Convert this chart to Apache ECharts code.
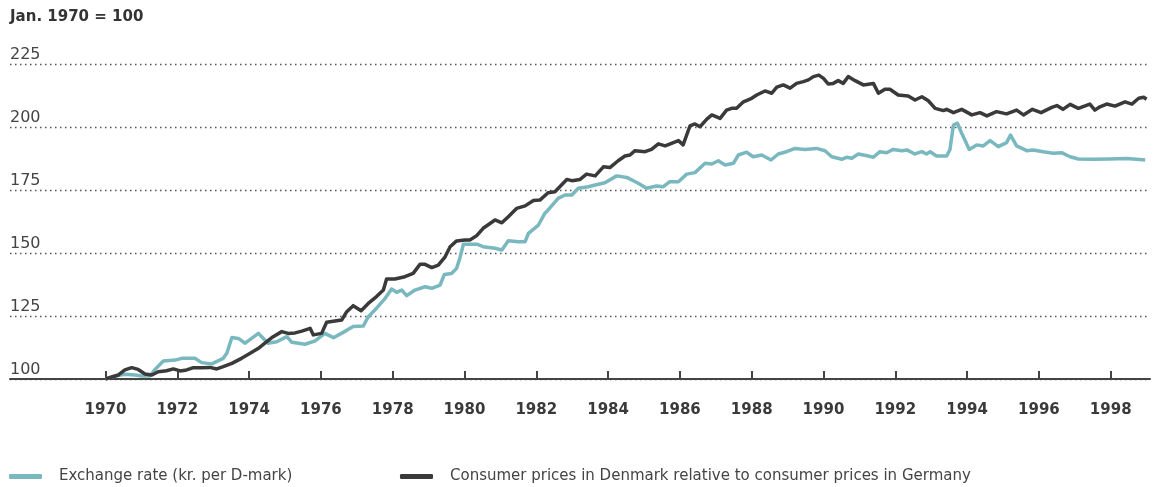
<!DOCTYPE html>
<html>
<head>
<meta charset="utf-8">
<script src="https://cdn.jsdelivr.net/npm/echarts@6/dist/echarts.min.js"></script>
<style>
html,body{margin:0;padding:0;background:#fff;}
#chart{width:1155px;height:487px;}
</style>
</head>
<body>
<div id="chart"></div>
<script>
// ---- data (decimal years, index Jan. 1970 = 100) ----
const exName = 'Exchange rate (kr. per D-mark)';
const cpName = 'Consumer prices in Denmark relative to consumer prices in Germany';

const exDates = [1970.00,1970.26,1970.54,1970.82,1971.00,1971.24,1971.38,1971.61,1971.94,1972.12,1972.49,1972.68,1972.96,1973.28,1973.38,1973.52,1973.70,1973.89,1974.07,1974.26,1974.35,1974.53,1974.77,1975.05,1975.19,1975.56,1975.84,1976.11,1976.35,1976.62,1976.90,1977.18,1977.32,1977.55,1977.79,1977.97,1978.11,1978.25,1978.39,1978.62,1978.90,1979.09,1979.32,1979.44,1979.64,1979.78,1979.87,1979.97,1980.20,1980.34,1980.52,1980.85,1981.04,1981.22,1981.50,1981.69,1981.78,1982.06,1982.24,1982.33,1982.61,1982.80,1982.99,1983.17,1983.45,1983.64,1983.91,1984.24,1984.52,1984.84,1985.07,1985.35,1985.54,1985.72,1985.96,1986.19,1986.42,1986.70,1986.89,1987.07,1987.26,1987.49,1987.63,1987.86,1988.04,1988.28,1988.54,1988.74,1988.97,1989.21,1989.48,1989.81,1990.04,1990.23,1990.51,1990.65,1990.79,1990.97,1991.25,1991.39,1991.57,1991.76,1991.94,1992.18,1992.32,1992.55,1992.74,1992.87,1992.97,1993.15,1993.43,1993.52,1993.62,1993.73,1993.85,1994.06,1994.27,1994.45,1994.64,1994.87,1995.10,1995.21,1995.38,1995.66,1995.84,1996.12,1996.40,1996.63,1996.87,1997.10,1997.52,1997.98,1998.45,1998.72,1998.96];
const exValues = [100.0,101.2,101.9,101.6,101.2,101.2,103.8,107.1,107.5,108.2,108.2,106.5,106.0,108.2,110.2,116.5,116.1,114.2,116.1,118.1,116.8,114.2,114.8,116.8,114.6,113.8,115.1,118.1,116.4,118.5,120.8,121.0,124.7,128.1,132.0,135.7,134.4,135.3,133.1,135.3,136.6,136.0,137.3,141.5,141.9,143.9,147.9,153.5,153.5,153.5,152.5,151.9,151.2,154.9,154.5,154.5,157.8,161.1,165.8,167.1,171.7,173.0,173.0,175.7,176.3,177.0,177.9,180.6,180.0,177.7,175.7,176.6,176.3,178.3,178.3,181.3,181.9,185.6,185.3,186.6,184.9,185.6,188.9,190.0,188.2,188.9,186.9,189.3,190.2,191.5,191.1,191.5,190.6,188.2,187.2,188.0,187.6,189.3,188.5,188.0,190.2,189.8,191.1,190.6,190.9,189.3,190.2,189.3,190.2,188.5,188.5,190.9,200.8,201.5,197.5,191.1,192.9,192.5,194.6,192.2,193.8,196.8,192.5,190.6,190.9,190.2,189.6,189.8,188.2,187.3,187.2,187.3,187.5,187.2,186.9];

const cpDates = [1970.00,1970.36,1970.54,1970.73,1970.91,1971.10,1971.29,1971.47,1971.70,1971.89,1972.08,1972.26,1972.45,1972.68,1972.91,1973.10,1973.28,1973.52,1973.79,1974.03,1974.26,1974.44,1974.67,1974.91,1975.09,1975.28,1975.47,1975.70,1975.79,1976.02,1976.16,1976.39,1976.58,1976.72,1976.90,1977.12,1977.32,1977.55,1977.74,1977.83,1978.06,1978.34,1978.57,1978.76,1978.90,1979.09,1979.27,1979.46,1979.60,1979.78,1980.01,1980.15,1980.34,1980.52,1980.85,1981.04,1981.22,1981.45,1981.69,1981.92,1982.10,1982.33,1982.52,1982.85,1982.99,1983.22,1983.40,1983.64,1983.87,1984.05,1984.28,1984.47,1984.61,1984.75,1985.03,1985.21,1985.40,1985.59,1985.96,1986.09,1986.28,1986.42,1986.56,1986.75,1986.89,1987.12,1987.30,1987.44,1987.58,1987.77,1988.00,1988.14,1988.37,1988.56,1988.70,1988.88,1989.07,1989.25,1989.44,1989.58,1989.72,1989.87,1990.00,1990.13,1990.27,1990.41,1990.55,1990.69,1990.88,1991.11,1991.39,1991.53,1991.71,1991.85,1992.08,1992.36,1992.55,1992.74,1992.92,1993.11,1993.34,1993.43,1993.62,1993.85,1994.13,1994.36,1994.55,1994.82,1995.10,1995.38,1995.57,1995.82,1996.06,1996.36,1996.50,1996.67,1996.87,1997.10,1997.42,1997.56,1997.70,1997.89,1998.12,1998.40,1998.59,1998.78,1998.92,1999.00];
const cpValues = [100.0,101.6,103.6,104.5,103.8,102.0,101.6,102.9,103.3,104.0,103.2,103.6,104.5,104.5,104.6,104.0,104.9,106.2,108.2,110.2,112.2,114.2,116.8,118.8,118.1,118.3,119.0,120.1,117.5,118.1,122.5,123.0,123.4,126.7,129.1,127.1,130.0,132.7,135.3,139.7,139.7,140.6,141.9,145.5,145.5,144.2,145.2,148.5,152.5,154.8,155.2,155.2,156.9,159.8,163.1,162.0,164.4,167.7,168.7,170.8,171.0,173.9,174.3,179.2,178.7,179.2,181.3,180.6,184.2,183.9,186.6,188.5,188.9,190.6,190.2,191.1,193.3,192.5,194.6,192.9,200.4,201.2,200.1,203.1,204.8,203.4,206.7,207.4,207.4,210.0,211.4,212.7,214.3,213.4,215.8,216.7,215.4,217.3,218.0,218.7,220.0,220.6,219.3,217.1,217.3,218.4,217.3,220.0,218.4,216.7,217.3,213.4,215.0,215.0,212.7,212.3,210.7,212.0,210.4,207.4,206.5,207.0,205.7,207.0,204.8,205.7,204.4,206.1,205.2,206.7,204.8,207.0,205.7,207.8,208.5,207.0,209.0,207.4,209.1,206.7,208.0,209.1,208.3,210.0,209.1,211.4,211.8,211.0];

const xTickYears = [1970,1972,1974,1976,1978,1980,1982,1984,1986,1988,1990,1992,1994,1996,1998];
const yTickValues = [100,125,150,175,200,225];

const teal = '#7ab8bf';
const dark = '#3a3a3a';

const chart = echarts.init(document.getElementById('chart'), null, {renderer: 'canvas'});
chart.setOption({
  animation: false,
  backgroundColor: '#fff',
  title: {
    text: 'Jan. 1970 = 100',
    left: 5, top: 5,
    textStyle: {fontFamily: 'DejaVu Sans', fontWeight: 'bold', fontSize: 15, color: '#333'}
  },
  grid: {left: 10, right: 5, top: 64, height: 315, containLabel: false},
  xAxis: {
    type: 'value',
    min: 1967.34, max: 1999.095,
    axisLine: {show: true, lineStyle: {color: '#444', width: 2}},
    axisTick: {show: true, inside: true, length: 8, customValues: xTickYears, lineStyle: {color: '#444', width: 2}},
    axisLabel: {
      customValues: xTickYears, margin: 24,
      formatter: v => String(v),
      fontFamily: 'DejaVu Sans', fontWeight: 'bold', fontSize: 15, color: '#3a3a3a'
    },
    splitLine: {show: false}
  },
  yAxis: {
    type: 'value', min: yTickValues[0], max: yTickValues[yTickValues.length-1], interval: 25,
    axisLine: {show: false}, axisTick: {show: false},
    axisLabel: {
      inside: true, margin: 0, verticalAlign: 'bottom', padding: [0,0,1,0],
      fontFamily: 'DejaVu Sans', fontSize: 16, color: '#444'
    },
    splitLine: {show: true, lineStyle: {color: '#555', width: 1.3, type: [1.5, 3.5]}}
  },
  legend: [
    {
      data: [exName], left: 9, top: 469, padding: 0,
      icon: 'roundRect', itemWidth: 33, itemHeight: 5,
      textStyle: {fontFamily: 'DejaVu Sans', fontSize: 15, color: '#444', padding: [0,0,0,12]}
    },
    {
      data: [cpName], left: 400, top: 469, padding: 0,
      icon: 'roundRect', itemWidth: 33, itemHeight: 5,
      textStyle: {fontFamily: 'DejaVu Sans', fontSize: 15, color: '#444', padding: [0,0,0,12]}
    }
  ],
  series: [
    {
      name: exName, type: 'line', showSymbol: false, symbol: 'none',
      color: teal, lineStyle: {color: teal, width: 3.5, join: 'round'},
      data: exDates.map((d, i) => [d, exValues[i]]), z: 3
    },
    {
      name: cpName, type: 'line', showSymbol: false, symbol: 'none',
      color: dark, lineStyle: {color: dark, width: 3.5, join: 'round'},
      data: cpDates.map((d, i) => [d, cpValues[i]]), z: 4
    }
  ]
});
</script>
</body>
</html>
